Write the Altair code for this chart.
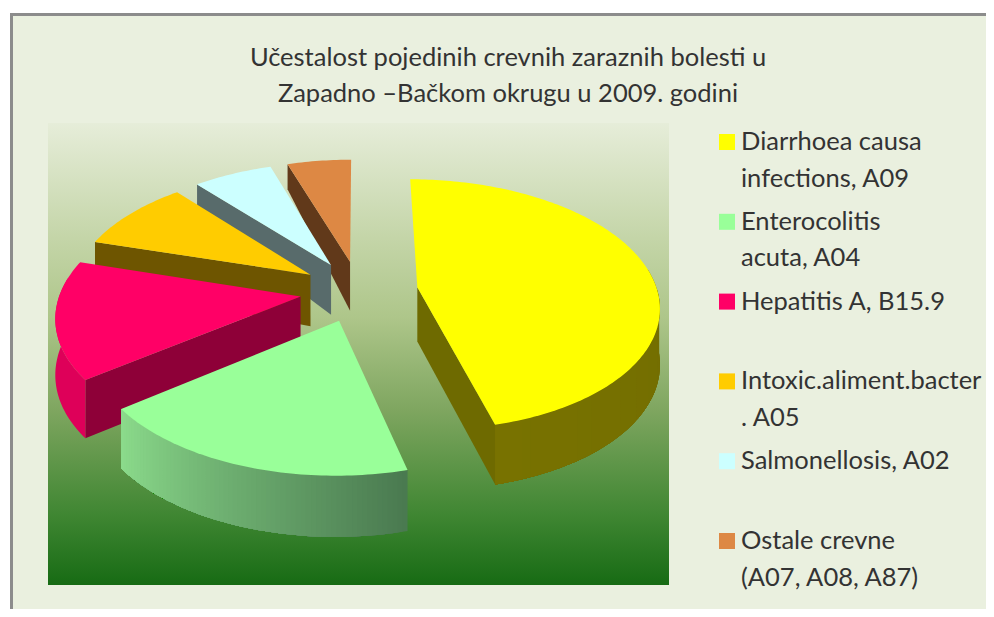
import math
import altair as alt

TITLE_LINES = ["Učestalost pojedinih crevnih zaraznih bolesti u",
               "Zapadno –Bačkom okrugu  u 2009. godini"]
CATEGORIES = ["Diarrhoea causa\ninfections, A09", "Enterocolitis\nacuta, A04", "Hepatitis A, B15.9",
              "Intoxic.aliment.bacter\n. A05", "Salmonellosis, A02", "Ostale crevne\n(A07, A08, A87)"]
VALUES = [46, 18.6, 15, 9.2, 6.2, 5]
TOP_COLORS = ["#FFFF00", "#99FF99", "#FF0066", "#FFCC00", "#CCFFFF", "#DD8844"]
WALL_COLORS = ["#6E6A00", "#5E9A60", "#8E0038", "#6E5500", "#586B6B", "#61391A"]
RIM_START = ["#6C6800", "#4A7A50", "#DE0059", "#6E5500", "#586B6B", "#61391A"]
RIM_END = ["#787200", "#8CDC8C", "#DE0059", "#6E5500", "#586B6B", "#61391A"]
PAINT_ORDER = [5, 4, 3, 2, 0, 1]

# 3-D pie projection (chart pixels are the page's minus the 8px margin)
CX, CY, RX, RY, PERSP, EXPLODE = 359, 291, 240, 124, 0.14, 0.246


def project(u, v):
    s = 1 / (1 - PERSP * v)
    return CX + RX * u * s, CY + RY * v * s


def depth(v):
    return 55 + 5 * v if v > 0 else max(22, 55 + 25 * v)


def mix(c1, c2, t):
    a = [int(c1[i:i + 2], 16) for i in (1, 3, 5)]
    b = [int(c2[i:i + 2], 16) for i in (1, 3, 5)]
    return "#%02x%02x%02x" % tuple(round(x + (y - x) * t) for x, y in zip(a, b))


def feature(points, fill):
    ring = [[round(x, 2), round(y, 2)] for x, y in points]
    ring.append(ring[0])
    return {"type": "Feature", "properties": {"fill": fill},
            "geometry": {"type": "Polygon", "coordinates": [ring]}}


total = sum(VALUES)
starts = [sum(VALUES[:i]) / total * 2 * math.pi for i in range(len(VALUES))]
features = []
for i in PAINT_ORDER:
    a0 = starts[i]
    a1 = a0 + VALUES[i] / total * 2 * math.pi
    mid = (a0 + a1) / 2
    ou, ov = EXPLODE * math.sin(mid), -EXPLODE * math.cos(mid)
    n = max(4, int((a1 - a0) / math.radians(1)))
    angles = [a0 + (a1 - a0) * k / n for k in range(n + 1)]
    rim = [(ou + math.sin(a), ov - math.cos(a)) for a in angles]
    apex = (ou, ov)
    # only the walls that face the viewer are drawn
    for edge, visible in ((rim[0], math.sin(a0) < 0), (rim[-1], math.sin(a1) > 0)):
        if visible:
            p, q = project(*apex), project(*edge)
            features.append(feature([p, q, (q[0], q[1] + depth(edge[1])), (p[0], p[1] + depth(apex[1]))], WALL_COLORS[i]))
    # each band runs to the end of the visible rim and the next paints over it, so no seams show
    keep = [k for k in range(n) if -math.cos((angles[k] + angles[k + 1]) / 2) >= -0.15]
    last_fill = None
    for k in keep:
        fill = mix(RIM_START[i], RIM_END[i], k / n)
        if fill == last_fill:
            continue
        last_fill = fill
        run = rim[k:keep[-1] + 2]
        upper = [project(*p) for p in run]
        lower = [(x, y + depth(p[1])) for (x, y), p in zip(upper, run)]
        features.append(feature(upper + lower[::-1], fill))
    features.append(feature([project(*apex)] + [project(*p) for p in rim], TOP_COLORS[i]))

W, H = 978, 601
frame = alt.Chart(alt.Data(values=[{"a": 0}])).mark_rect(
    fill="#EAF0DF", stroke="#8C8C8C", strokeWidth=3
).encode(x=alt.value(3.5), x2=alt.value(W + 10), y=alt.value(6.5), y2=alt.value(H + 10))

plot_bg = alt.Chart(alt.Data(values=[{"a": 0}])).mark_rect(
    fill=alt.Gradient(gradient="linear", x1=0, x2=0, y1=0, y2=1, stops=[
        alt.GradientStop(color="#E6EDD9", offset=0),
        alt.GradientStop(color="#C4D5A8", offset=0.25),
        alt.GradientStop(color="#AEC68A", offset=0.42),
        alt.GradientStop(color="#7FA660", offset=0.62),
        alt.GradientStop(color="#3F8632", offset=0.85),
        alt.GradientStop(color="#176B14", offset=1),
    ])
).encode(x=alt.value(40), x2=alt.value(661), y=alt.value(115), y2=alt.value(577))

pie = alt.Chart(alt.Data(values=features)).mark_geoshape(strokeWidth=0).encode(
    fill=alt.Fill("properties.fill:N", scale=None, legend=None),
).project(type="identity", scale=1, translate=[-8, -8])

legend_rows = [{"row": i, "label": c, "color": col} for i, (c, col) in enumerate(zip(CATEGORIES, TOP_COLORS))]
row_y = alt.Y("row:O", axis=None, scale=alt.Scale(type="point", range=[134, 533], padding=0))
legend_sym = alt.Chart(alt.Data(values=legend_rows)).mark_square(size=256, opacity=1).encode(
    x=alt.value(719), y=row_y, fill=alt.Fill("color:N", scale=None, legend=None))
legend_txt = alt.Chart(alt.Data(values=legend_rows)).transform_calculate(
    lines="split(datum.label, '\\n')"
).mark_text(align="left", baseline="middle", font="Lato", fontSize=25.5, lineHeight=36.5, color="#333333",
            dy=0).encode(x=alt.value(733), y=row_y, text="lines:N")

chart = alt.layer(frame, plot_bg, pie, legend_sym, legend_txt).resolve_scale(y="shared").properties(
    width=W, height=H, padding=0, autosize=alt.AutoSizeParams(type="none"),
    background="white",
    title=alt.TitleParams(text=TITLE_LINES, font="Lato", fontSize=25.5, fontWeight="normal", lineHeight=36,
                          color="#333333", anchor="start", align="center", dx=500, dy=103),
).configure_view(stroke=None)

chart.save("out.html", embed_options={"renderer": "svg", "actions": False})
